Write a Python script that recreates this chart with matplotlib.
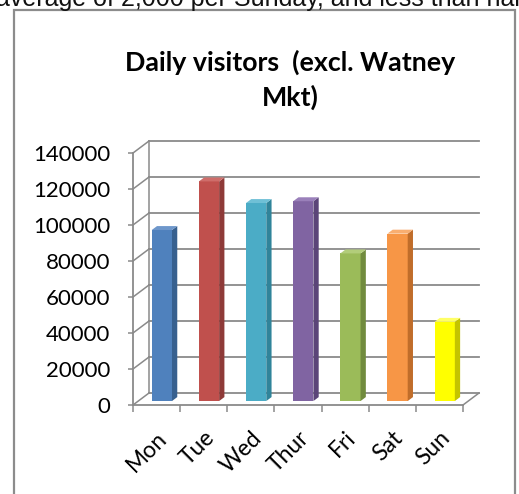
import matplotlib
matplotlib.use('Agg')
import matplotlib.pyplot as plt
from matplotlib.patches import Rectangle, Polygon

# data
days = ['Mon', 'Tue', 'Wed', 'Thur', 'Fri', 'Sat', 'Sun']
visitors = [95000, 122000, 110000, 111000, 82000, 93000, 44000]
y_ticks = [0, 20000, 40000, 60000, 80000, 100000, 120000, 140000]
front_colors = ['#4F81BD', '#C0504D', '#4BACC6', '#8064A2', '#9BBB59', '#F79646', '#FFFF00']
side_colors = ['#37608F', '#8E3A38', '#30849A', '#5B4578', '#718B3E', '#C06D2A', '#C4C400']
top_colors = ['#6E97CB', '#CF6D6A', '#6FC0D6', '#9A80BA', '#B2CD7A', '#F9AE70', '#FFFF66']

W, H = 519, 494
fig = plt.figure(figsize=(W / 100, H / 100), dpi=100)

# axes box = front plane of the 3d chart (pixels from the reference)
left, right, top, bottom = 133, 463, 153, 405
ax = fig.add_axes([left / W, 1 - bottom / H, (right - left) / W, (bottom - top) / H])
ax.set_xlim(0, len(days))
ax.set_ylim(0, 140000)
ax.patch.set_visible(False)

grid_c = '#8a8a8a'
# depth of the floor / side wall, in data units
px_x = len(days) / (right - left)
px_y = 140000 / (bottom - top)
dx = 16 * px_x
dy = 12 * px_y
n = len(days)

# back wall, side wall and floor
for v in y_ticks:
    ax.plot([dx, n + dx], [v + dy, v + dy], color=grid_c, lw=1.3, clip_on=False, zorder=1)
    ax.plot([0, dx], [v, v + dy], color=grid_c, lw=1.1, clip_on=False, zorder=1)
ax.plot([dx, dx], [dy, 140000 + dy], color=grid_c, lw=1.1, clip_on=False, zorder=1)
ax.plot([n, n + dx], [0, dy], color=grid_c, lw=1.1, clip_on=False, zorder=1)

# 3d bars
bw = 0.43
f = 0.33   # depth of bar front
bd = 0.33  # bar depth
for i, v in enumerate(visitors):
    x0 = i + 0.5 - bw / 2 + f * dx
    y0 = f * dy
    ax.add_patch(Rectangle((x0, y0), bw, v, facecolor=front_colors[i],
                           edgecolor='none', zorder=3, clip_on=False))
    ax.add_patch(Polygon([(x0 + bw, y0), (x0 + bw + bd * dx, y0 + bd * dy),
                          (x0 + bw + bd * dx, y0 + bd * dy + v), (x0 + bw, y0 + v)],
                         closed=True, facecolor=side_colors[i], edgecolor='none',
                         zorder=3, clip_on=False))
    ax.add_patch(Polygon([(x0, y0 + v), (x0 + bw, y0 + v),
                          (x0 + bw + bd * dx, y0 + v + bd * dy), (x0 + bd * dx, y0 + v + bd * dy)],
                         closed=True, facecolor=top_colors[i], edgecolor='none',
                         zorder=3, clip_on=False))

for s in ['top', 'right']:
    ax.spines[s].set_visible(False)
for s in ['left', 'bottom']:
    ax.spines[s].set_color(grid_c)
    ax.spines[s].set_linewidth(1.3)
    ax.spines[s].set_zorder(4)

ax.set_yticks(y_ticks)
ax.set_yticklabels([str(t) for t in y_ticks], fontsize=16, family='Lato')
ax.tick_params(axis='y', direction='out', length=3.6, width=1.1, color=grid_c, pad=12.5)

ax.set_xticks([i + 0.5 for i in range(n)])
ax.set_xticks(range(n + 1), minor=True)
ax.set_xticklabels(days, fontsize=16.5, family='Lato', rotation=45, ha='right',
                   rotation_mode='anchor')
ax.tick_params(axis='x', which='major', length=0, pad=16)
ax.tick_params(axis='x', which='minor', direction='out', length=5, width=1.1, color=grid_c)

# title, two centred lines
fig.text(290 / W, 1 - 62 / H, 'Daily visitors  (excl. Watney', ha='center', va='center',
         fontsize=19.3, fontweight='bold', family='Lato')
fig.text(290 / W, 1 - 97 / H, 'Mkt)', ha='center', va='center',
         fontsize=19.3, fontweight='bold', family='Lato')

# clipped sentence from the surrounding document
fig.text(-4 / W, 1 - 6 / H, 'average of 2,000 per Sunday, and less than half',
         ha='left', va='baseline', fontsize=18, family='Liberation Sans', color='#111111')

# chart frame
fig.patches.append(Rectangle((14 / W, -0.05), (515 - 14) / W, 1 - 10 / H + 0.05,
                             transform=fig.transFigure, fill=False,
                             edgecolor='#8c8c8c', lw=1.6))

fig.savefig('out.png', dpi=100)
